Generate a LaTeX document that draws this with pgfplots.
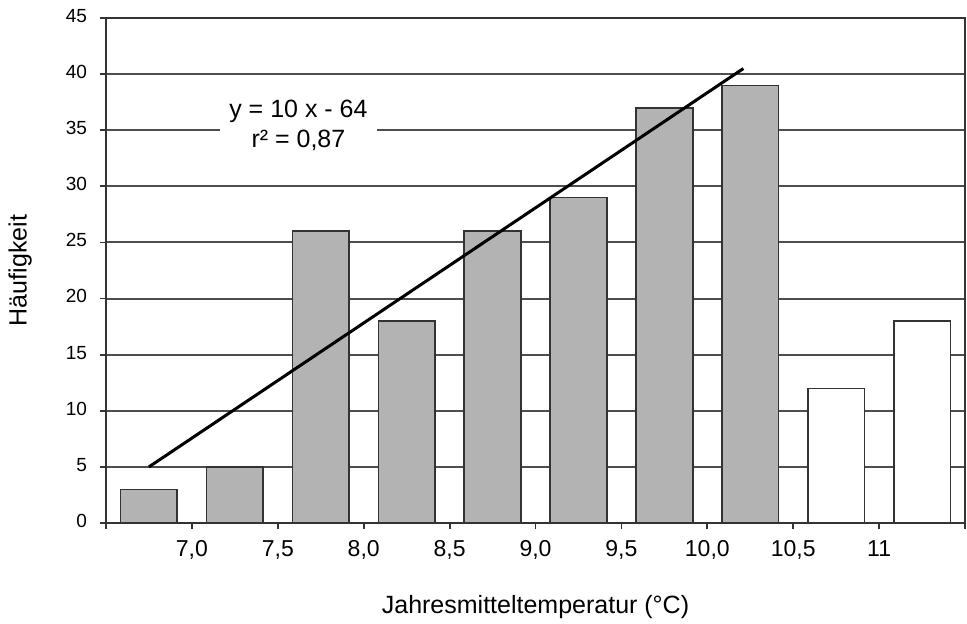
\documentclass[border=0pt]{standalone}
\usepackage{pgfplots}
\pgfplotsset{compat=1.18}
\usepackage{fontspec}
\setmainfont{Liberation Sans}

\definecolor{bargray}{HTML}{B3B3B3}
\definecolor{edge}{HTML}{333333}
\definecolor{gridc}{HTML}{4D4D4D}

\begin{document}
\begin{tikzpicture}
\path[use as bounding box] (0,0) rectangle (483.5pt,311.5pt);
\begin{axis}[
  at={(53pt,50pt)}, anchor=south west,
  scale only axis,
  width=429.5pt, height=252.5pt,
  xmin=-0.5, xmax=9.5,
  ymin=0, ymax=45,
  ytick={0,5,...,45},
  xtick={-0.5,0.5,...,9.5},
  xticklabels={,{7,0},{7,5},{8,0},{8,5},{9,0},{9,5},{10,0},{10,5},{11},},
  typeset ticklabels with strut,
  tick align=outside,
  major tick length=3pt,
  xtick pos=bottom, ytick pos=left,
  tick style={edge, line width=0.9pt},
  ymajorgrids,
  grid style={gridc, line width=1pt},
  axis line style={edge, line width=0.9pt},
  /pgf/number format/assume math mode=true,
  xticklabel style={font=\fontsize{11.5}{13}\selectfont, yshift=-1pt},
  yticklabel style={font=\fontsize{9.5}{11}\selectfont, xshift=-3pt},
  xlabel={Jahresmitteltemperatur (°C)},
  ylabel={Häufigkeit},
  xlabel style={at={(axis description cs:0.5,-0.166)}, anchor=center},
  ylabel style={at={(axis description cs:-0.1,0.5)}, anchor=center},
  label style={font=\fontsize{12.5}{14}\selectfont},
  ybar, bar width=0.66,
]
\addplot[bar shift=0pt, fill=bargray, draw=edge, line width=0.8pt] coordinates {
(0,3) (1,5) (2,26) (3,18) (4,26) (5,29) (6,37) (7,39)
};
\addplot[bar shift=0pt, fill=white, draw=edge, line width=0.8pt] coordinates {
(8,12) (9,18)
};
\addplot[sharp plot, black, line width=1.5pt, mark=none] coordinates {
(0,5) (6.92,40.5)
};
\node[fill=white, align=center, inner xsep=4.5pt, inner ysep=1pt,
      font=\fontsize{12.5}{15}\selectfont] at (axis cs:1.74,35.4)
  {y = 10 x - 64\\r² = 0,87};
\end{axis}
\end{tikzpicture}
\end{document}
